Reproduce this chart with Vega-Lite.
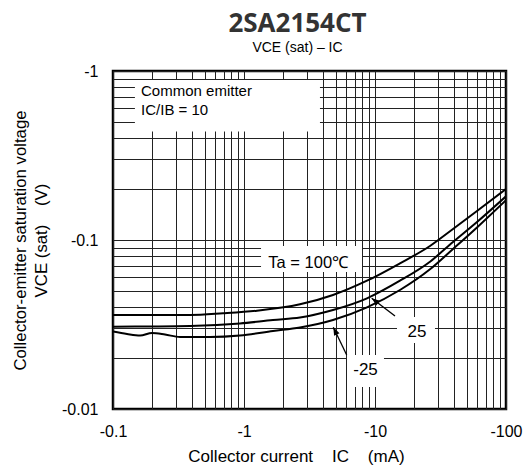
{
  "$schema": "https://vega.github.io/schema/vega-lite/v6.json",
  "width": 393,
  "height": 338,
  "autosize": {"type": "none"},
  "padding": {"left": 113, "top": 71, "right": 17, "bottom": 57},
  "background": "white",
  "title": {
    "text": "2SA2154CT",
    "subtitle": "VCE (sat) – IC",
    "font": "Open Sans",
    "fontSize": 26,
    "fontWeight": "bold",
    "color": "#333333",
    "subtitleFont": "Liberation Sans",
    "subtitleFontSize": 14,
    "subtitleColor": "#000000",
    "anchor": "middle",
    "offset": 8,
    "subtitlePadding": 4,
    "dx": -12
  },
  "config": {
    "view": {"stroke": "#000000", "strokeWidth": 2.5},
    "font": "Liberation Sans",
    "axis": {
      "labelFont": "Liberation Sans",
      "titleFont": "Liberation Sans",
      "labelColor": "#000000",
      "titleColor": "#000000",
      "titleFontWeight": "normal"
    }
  },
  "encoding": {
    "x": {
      "field": "I", "type": "quantitative",
      "scale": {"type": "log", "domain": [0.1, 100], "nice": false},
      "axis": {
        "values": [0.1, 0.2, 0.3, 0.4, 0.5, 0.6, 0.7, 0.8, 0.9, 1, 2, 3, 4, 5, 6, 7, 8, 9, 10, 20, 30, 40, 50, 60, 70, 80, 90, 100],
        "labelExpr": "indexof([0.1, 1, 10, 100], datum.value) >= 0 ? '-' + datum.value : ''",
        "labelOverlap": false,
        "labelBound": false,
        "labelFlush": false,
        "labelFontSize": 16,
        "labelPadding": 14,
        "ticks": false,
        "domain": false,
        "grid": true,
        "gridColor": "#222222",
        "gridWidth": 1,
        "gridOpacity": 1,
        "title": "Collector current\u00a0\u00a0\u00a0\u00a0IC\u00a0\u00a0\u00a0\u00a0(mA)",
        "titleFontSize": 17,
        "titlePadding": 9,
        "titleX": 183
      }
    },
    "y": {
      "field": "V", "type": "quantitative",
      "scale": {"type": "log", "domain": [0.01, 1], "nice": false},
      "axis": {
        "values": [0.01, 0.02, 0.03, 0.04, 0.05, 0.06, 0.07, 0.08, 0.09, 0.1, 0.2, 0.3, 0.4, 0.5, 0.6, 0.7, 0.8, 0.9, 1],
        "labelExpr": "indexof([0.01, 0.1, 1], datum.value) >= 0 ? '-' + datum.value : ''",
        "labelOverlap": false,
        "labelBound": false,
        "labelFlush": false,
        "labelFontSize": 16,
        "labelPadding": 15,
        "ticks": false,
        "domain": false,
        "grid": true,
        "gridColor": "#222222",
        "gridWidth": 1,
        "gridOpacity": 1,
        "title": ["Collector-emitter saturation voltage", "VCE (sat)\u00a0\u00a0\u00a0\u00a0(V)"],
        "titleFontSize": 16.8,
        "titleLineHeight": 21,
        "titlePadding": 11
      }
    }
  },
  "layer": [
    {
      "data": {"values": [
        {"I": 0.147, "I2": 3.8, "V": 0.8846, "V2": 0.4385},
        {"I": 1.349, "I2": 7.958, "V": 0.09215, "V2": 0.06465},
        {"I": 14.72, "I2": 28.7, "V": 0.03503, "V2": 0.02458},
        {"I": 6.113, "I2": 11.71, "V": 0.02087, "V2": 0.01349}
      ]},
      "mark": {"type": "rect", "fill": "white", "stroke": null},
      "encoding": {
        "x2": {"field": "I2"},
        "y2": {"field": "V2"}
      }
    },
    {
      "data": {"values": [
        {"Ta": "100", "I": 0.1, "V": 0.03598},
        {"Ta": "100", "I": 0.1916, "V": 0.03598},
        {"Ta": "100", "I": 0.387, "V": 0.03598},
        {"Ta": "100", "I": 0.691, "V": 0.03683},
        {"Ta": "100", "I": 1.257, "V": 0.03816},
        {"Ta": "100", "I": 2.676, "V": 0.04163},
        {"Ta": "100", "I": 4.779, "V": 0.04727},
        {"Ta": "100", "I": 8.687, "V": 0.05742},
        {"Ta": "100", "I": 15.51, "V": 0.07279},
        {"Ta": "100", "I": 26.29, "V": 0.0922},
        {"Ta": "100", "I": 39.4, "V": 0.1162},
        {"Ta": "100", "I": 60.06, "V": 0.1484},
        {"Ta": "100", "I": 100, "V": 0.2003},
        {"Ta": "25", "I": 0.1, "V": 0.03069},
        {"Ta": "25", "I": 0.1916, "V": 0.03078},
        {"Ta": "25", "I": 0.387, "V": 0.03098},
        {"Ta": "25", "I": 0.932, "V": 0.03205},
        {"Ta": "25", "I": 1.665, "V": 0.03362},
        {"Ta": "25", "I": 2.676, "V": 0.03479},
        {"Ta": "25", "I": 4.779, "V": 0.03852},
        {"Ta": "25", "I": 8.687, "V": 0.04519},
        {"Ta": "25", "I": 15.51, "V": 0.05742},
        {"Ta": "25", "I": 26.29, "V": 0.0744},
        {"Ta": "25", "I": 39.4, "V": 0.09731},
        {"Ta": "25", "I": 60.06, "V": 0.1278},
        {"Ta": "25", "I": 100, "V": 0.1814},
        {"Ta": "-25", "I": 0.1, "V": 0.02875},
        {"Ta": "-25", "I": 0.128, "V": 0.02779},
        {"Ta": "-25", "I": 0.161, "V": 0.02722},
        {"Ta": "-25", "I": 0.1985, "V": 0.02817},
        {"Ta": "-25", "I": 0.2495, "V": 0.0276},
        {"Ta": "-25", "I": 0.3248, "V": 0.02667},
        {"Ta": "-25", "I": 0.55, "V": 0.02667},
        {"Ta": "-25", "I": 0.932, "V": 0.02722},
        {"Ta": "-25", "I": 1.665, "V": 0.02894},
        {"Ta": "-25", "I": 2.676, "V": 0.03035},
        {"Ta": "-25", "I": 4.779, "V": 0.03362},
        {"Ta": "-25", "I": 8.687, "V": 0.03997},
        {"Ta": "-25", "I": 15.51, "V": 0.05059},
        {"Ta": "-25", "I": 26.29, "V": 0.06708},
        {"Ta": "-25", "I": 39.4, "V": 0.08845},
        {"Ta": "-25", "I": 60.06, "V": 0.1186},
        {"Ta": "-25", "I": 100, "V": 0.172}
      ]},
      "mark": {"type": "line", "color": "#000000", "strokeWidth": 2, "interpolate": "monotone", "clip": true},
      "encoding": {
        "detail": {"field": "Ta"}
      }
    },
    {
      "data": {"values": [
        {"I": 14.21, "V": 0.03551, "I2": 9.437, "V2": 0.04519},
        {"I": 6.081, "V": 0.02087, "I2": 4.805, "V2": 0.03045}
      ]},
      "mark": {"type": "rule", "color": "#000000", "strokeWidth": 1.3},
      "encoding": {
        "x2": {"field": "I2"},
        "y2": {"field": "V2"}
      }
    },
    {
      "data": {"values": [{"I": 9.437, "V": 0.04519}]},
      "mark": {"type": "point", "shape": "M0,0L-0.75,2L0.75,2Z", "filled": true, "color": "#000000", "opacity": 1, "size": 64, "angle": 307},
      "encoding": {}
    },
    {
      "data": {"values": [{"I": 4.805, "V": 0.03045}]},
      "mark": {"type": "point", "shape": "M0,0L-0.75,2L0.75,2Z", "filled": true, "color": "#000000", "opacity": 1, "size": 64, "angle": 334},
      "encoding": {}
    },
    {
      "data": {"values": [
        {"label": "Common emitter", "I": 0.1637, "V": 0.7067},
        {"label": "IC/IB = 10", "I": 0.1637, "V": 0.549}
      ]},
      "mark": {"type": "text", "align": "left", "baseline": "alphabetic", "fontSize": 15, "font": "Liberation Sans", "color": "#000000"},
      "encoding": {
        "text": {"field": "label"}
      }
    },
    {
      "data": {"values": [{"label": "Ta = 100℃", "I": 1.533, "V": 0.06828}]},
      "mark": {"type": "text", "align": "left", "baseline": "alphabetic", "fontSize": 16.5, "font": "Liberation Sans", "color": "#000000"},
      "encoding": {
        "text": {"field": "label"}
      }
    },
    {
      "data": {"values": [
        {"label": "25", "I": 20.92, "V": 0.02685},
        {"label": "-25", "I": 8.462, "V": 0.01589}
      ]},
      "mark": {"type": "text", "align": "center", "baseline": "alphabetic", "fontSize": 17, "font": "Liberation Sans", "color": "#000000"},
      "encoding": {
        "text": {"field": "label"}
      }
    }
  ]
}
